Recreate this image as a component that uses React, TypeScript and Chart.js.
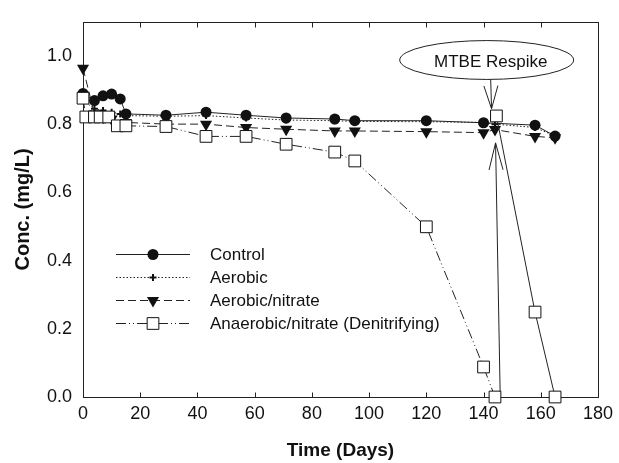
import { useEffect, useRef } from 'react';
import { Chart, registerables } from 'chart.js';

Chart.register(...registerables);

// ---- Data ----
const CONTROL_DAYS = [0, 4, 7, 10, 13, 15, 29, 43, 57, 71, 88, 95, 120, 140, 158, 165];
const CONTROL_VALUES = [0.89, 0.869, 0.883, 0.888, 0.874, 0.83, 0.826, 0.835, 0.826, 0.818, 0.815, 0.81, 0.81, 0.804, 0.797, 0.765];

const AEROBIC_DAYS = [0, 4, 7, 10, 13, 15, 29, 43, 57, 71, 88, 95, 120, 140, 144, 158, 165];
const AEROBIC_VALUES = [0.87, 0.845, 0.84, 0.835, 0.83, 0.825, 0.823, 0.825, 0.818, 0.812, 0.81, 0.808, 0.807, 0.805, 0.8, 0.79, 0.765];

const NITRATE_DAYS = [0, 4, 7, 10, 15, 29, 43, 57, 71, 88, 95, 120, 140, 144, 158, 165];
const NITRATE_VALUES = [0.964, 0.83, 0.82, 0.815, 0.805, 0.8, 0.8, 0.79, 0.785, 0.78, 0.78, 0.778, 0.775, 0.784, 0.764, 0.76];

const ANAEROBIC_DAYS = [0, 1, 4, 6, 9, 12, 15, 29, 43, 57, 71, 88, 95, 120, 140, 144];
const ANAEROBIC_VALUES = [0.876, 0.821, 0.821, 0.821, 0.821, 0.795, 0.795, 0.793, 0.764, 0.764, 0.741, 0.718, 0.692, 0.499, 0.088, 0.0];

const RESPIKE_DAYS = [144.5, 158, 165];
const RESPIKE_VALUES = [0.824, 0.249, 0.0];

const X_TICKS = [0, 20, 40, 60, 80, 100, 120, 140, 160, 180];
const Y_TICKS = [0, 0.2, 0.4, 0.6, 0.8, 1.0];

const SERIES_LABELS = ['Control', 'Aerobic', 'Aerobic/nitrate', 'Anaerobic/nitrate (Denitrifying)'];
const X_TITLE = 'Time (Days)';
const Y_TITLE = 'Conc. (mg/L)';
const ANNOTATION_TEXT = 'MTBE Respike';

// annotation geometry in data units
const ELLIPSE_CENTER = { x: 141.1, y: 0.988 };
const ELLIPSE_RADII = { x: 30.4, y: 0.057 };
const DOWN_ARROW = { from: { x: 142.5, y: 0.931 }, to: { x: 142.8, y: 0.845 } };
const UP_ARROW = { from: { x: 145.8, y: 0.015 }, to: { x: 144.2, y: 0.745 } };

const FONT = '"Liberation Sans", Arial, Helvetica, sans-serif';
const INK = '#111';
const LINE = '#222';

const DASH_SOLID: number[] = [];
const DASH_DOT = [1.5, 2];
const DASH_DASH = [8, 4];
const DASH_DDOT = [10, 3, 1, 3, 1, 3];

const toXY = (xs: number[], ys: number[]) => xs.map((x, i) => ({ x, y: ys[i] }));

function drawMarker(ctx: CanvasRenderingContext2D, kind: string, x: number, y: number) {
  ctx.save();
  ctx.setLineDash([]);
  ctx.strokeStyle = INK;
  ctx.fillStyle = INK;
  ctx.lineWidth = 1;
  ctx.beginPath();
  if (kind === 'circle') {
    ctx.arc(x, y, 5.5, 0, Math.PI * 2);
    ctx.fill();
  } else if (kind === 'cross') {
    ctx.lineWidth = 2;
    ctx.moveTo(x - 3.5, y);
    ctx.lineTo(x + 3.5, y);
    ctx.moveTo(x, y - 3.5);
    ctx.lineTo(x, y + 3.5);
    ctx.stroke();
  } else if (kind === 'tri') {
    const r = 7;
    ctx.moveTo(x, y + r);
    ctx.lineTo(x - r * 0.866, y - r * 0.5);
    ctx.lineTo(x + r * 0.866, y - r * 0.5);
    ctx.closePath();
    ctx.fill();
  } else {
    const s = 5.85;
    ctx.fillStyle = '#fff';
    ctx.rect(x - s, y - s, 2 * s, 2 * s);
    ctx.fill();
    ctx.stroke();
  }
  ctx.restore();
}

const decorPlugin = {
  id: 'decor',
  beforeDatasetsDraw(chart: any) {
    const { ctx, chartArea: a, scales } = chart;
    ctx.save();
    ctx.strokeStyle = LINE;
    ctx.lineWidth = 1;
    ctx.setLineDash([]);
    const l = Math.round(a.left) + 0.5;
    const r = Math.round(a.right) + 0.5;
    const t = Math.round(a.top) + 0.5;
    const b = Math.round(a.bottom) + 0.5;
    ctx.strokeRect(l, t, r - l, b - t);
    ctx.beginPath();
    X_TICKS.forEach((v) => {
      const px = Math.round(scales.x.getPixelForValue(v)) + 0.5;
      ctx.moveTo(px, b);
      ctx.lineTo(px, b - 5);
      ctx.moveTo(px, t);
      ctx.lineTo(px, t + 5);
    });
    ctx.stroke();

    // axis titles
    ctx.fillStyle = INK;
    ctx.font = `bold 19px ${FONT}`;
    ctx.textAlign = 'center';
    ctx.textBaseline = 'middle';
    ctx.fillText(X_TITLE, (a.left + a.right) / 2, 451);
    ctx.translate(23, (a.top + a.bottom) / 2);
    ctx.rotate(-Math.PI / 2);
    ctx.font = `bold 20px ${FONT}`;
    ctx.fillText(Y_TITLE, 0, 0);
    ctx.restore();
  },
  afterDatasetsDraw(chart: any) {
    const { ctx, scales } = chart;
    const X = (v: number) => scales.x.getPixelForValue(v);
    const Y = (v: number) => scales.y.getPixelForValue(v);
    ctx.save();
    ctx.strokeStyle = LINE;
    ctx.lineWidth = 1;
    ctx.setLineDash([]);

    // ellipse
    const cx = X(ELLIPSE_CENTER.x);
    const cy = Y(ELLIPSE_CENTER.y);
    const rx = X(ELLIPSE_CENTER.x + ELLIPSE_RADII.x) - cx;
    const ry = cy - Y(ELLIPSE_CENTER.y + ELLIPSE_RADII.y);
    ctx.beginPath();
    ctx.fillStyle = '#fff';
    ctx.ellipse(cx, cy, rx, ry, 0, 0, Math.PI * 2);
    ctx.fill();
    ctx.stroke();
    ctx.fillStyle = INK;
    ctx.font = `17px ${FONT}`;
    ctx.textAlign = 'center';
    ctx.textBaseline = 'middle';
    ctx.fillText(ANNOTATION_TEXT, cx + 4, cy + 2);

    // arrows
    const arrow = (f: any, t: any, len: number, half: number) => {
      const x1 = X(f.x), y1 = Y(f.y), x2 = X(t.x), y2 = Y(t.y);
      const ang = Math.atan2(y2 - y1, x2 - x1);
      ctx.beginPath();
      ctx.moveTo(x1, y1);
      ctx.lineTo(x2, y2);
      const bx = x2 - Math.cos(ang) * len;
      const by = y2 - Math.sin(ang) * len;
      const nx = -Math.sin(ang) * half;
      const ny = Math.cos(ang) * half;
      ctx.moveTo(bx + nx, by + ny);
      ctx.lineTo(x2, y2);
      ctx.lineTo(bx - nx, by - ny);
      ctx.stroke();
    };
    arrow(DOWN_ARROW.from, DOWN_ARROW.to, 23, 7);
    arrow(UP_ARROW.from, UP_ARROW.to, 27, 7);

    // legend
    const rows = [254, 277, 300, 323];
    const dashes = [DASH_SOLID, DASH_DOT, DASH_DASH, DASH_DDOT];
    const markers = ['circle', 'cross', 'tri', 'rect'];
    rows.forEach((ry2, i) => {
      ctx.save();
      ctx.strokeStyle = LINE;
      ctx.lineWidth = 1;
      ctx.setLineDash(dashes[i]);
      ctx.beginPath();
      ctx.moveTo(116, ry2 + 0.5);
      ctx.lineTo(190, ry2 + 0.5);
      ctx.stroke();
      ctx.restore();
      drawMarker(ctx, markers[i], 153, ry2 + 0.5);
      ctx.fillStyle = INK;
      ctx.font = `17px ${FONT}`;
      ctx.textAlign = 'left';
      ctx.textBaseline = 'middle';
      ctx.fillText(SERIES_LABELS[i], 210, ry2 + 1);
    });
    ctx.restore();
  },
};

export default function App() {
  const ref = useRef<HTMLCanvasElement>(null);
  useEffect(() => {
    if (!ref.current) return;
    const chart = new Chart(ref.current, {
      type: 'line',
      data: {
        datasets: [
          {
            label: SERIES_LABELS[0],
            data: toXY(CONTROL_DAYS, CONTROL_VALUES),
            borderColor: LINE,
            borderWidth: 1,
            backgroundColor: INK,
            pointStyle: 'circle',
            pointRadius: 5.5,
            pointBorderWidth: 0,
            pointBackgroundColor: INK,
            order: 3,
            clip: false as any,
          },
          {
            label: SERIES_LABELS[1],
            data: toXY(AEROBIC_DAYS, AEROBIC_VALUES),
            borderColor: LINE,
            borderWidth: 1,
            borderDash: DASH_DOT,
            pointStyle: 'cross',
            pointRadius: 3.5,
            pointBorderWidth: 2,
            pointBorderColor: INK,
            order: 4,
            clip: false as any,
          },
          {
            label: SERIES_LABELS[2],
            data: toXY(NITRATE_DAYS, NITRATE_VALUES),
            borderColor: LINE,
            borderWidth: 1,
            borderDash: DASH_DASH,
            pointStyle: 'triangle',
            pointRotation: 180,
            pointRadius: 7,
            pointBorderWidth: 0,
            pointBackgroundColor: INK,
            order: 2,
            clip: false as any,
          },
          {
            label: SERIES_LABELS[3],
            data: toXY(ANAEROBIC_DAYS, ANAEROBIC_VALUES),
            borderColor: LINE,
            borderWidth: 1,
            borderDash: DASH_DDOT,
            pointStyle: 'rect',
            pointRadius: 8.3,
            pointBorderWidth: 1,
            pointBorderColor: INK,
            pointBackgroundColor: '#fff',
            order: 0,
            clip: false as any,
          },
          {
            label: 'respike',
            data: toXY(RESPIKE_DAYS, RESPIKE_VALUES),
            borderColor: LINE,
            borderWidth: 1,
            pointStyle: 'rect',
            pointRadius: 8.3,
            pointBorderWidth: 1,
            pointBorderColor: INK,
            pointBackgroundColor: '#fff',
            order: 1,
            clip: false as any,
          },
        ],
      },
      options: {
        animation: false,
        responsive: false,
        devicePixelRatio: 1,
        layout: { padding: { top: 12, right: 18, left: 0, bottom: 0 } },
        plugins: { legend: { display: false }, tooltip: { enabled: false } },
        elements: { line: { tension: 0 } },
        scales: {
          x: {
            type: 'linear',
            min: 0,
            max: 180,
            afterBuildTicks: (s: any) => { s.ticks = X_TICKS.map((v) => ({ value: v })); },
            afterFit: (s: any) => { s.height = 66; },
            grid: { display: false, drawTicks: false },
            border: { display: false },
            ticks: {
              autoSkip: false,
              maxRotation: 0,
              padding: 6,
              color: INK,
              font: { family: FONT, size: 18 },
              callback: (v: any) => String(v),
            },
          },
          y: {
            type: 'linear',
            min: 0,
            max: 1.1,
            afterBuildTicks: (s: any) => { s.ticks = Y_TICKS.map((v) => ({ value: v })); },
            afterFit: (s: any) => { s.width = 83; },
            grid: { display: false, drawTicks: false },
            border: { display: false },
            ticks: {
              padding: 11,
              color: INK,
              font: { family: FONT, size: 18 },
              callback: (v: any) => Number(v).toFixed(1),
            },
          },
        },
      },
      plugins: [decorPlugin],
    } as any);
    return () => chart.destroy();
  }, []);
  return (
    <div style={{ position: 'absolute', left: 0, top: 0, width: 619, height: 463, background: '#fff' }}>
      <canvas ref={ref} width={619} height={463} style={{ display: 'block', width: 619, height: 463 }} />
    </div>
  );
}
